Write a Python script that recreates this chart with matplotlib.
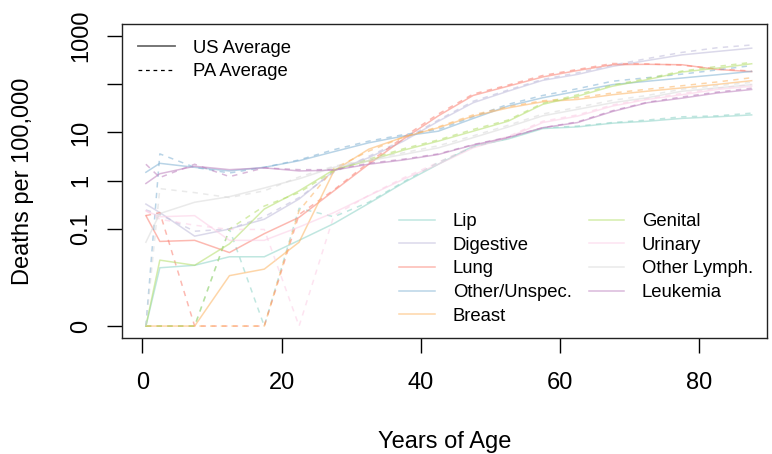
"""Cancer death rates by age, US vs PA averages, on a log(y + 0.001) scale."""

import numpy as np
import matplotlib
matplotlib.use('Agg')
import matplotlib.pyplot as plt
from matplotlib.lines import Line2D

AGES = [0.5, 2.5, 7.5, 12.5, 17.5, 22.5, 27.5, 32.5, 37.5, 42.5,
        47.5, 52.5, 57.5, 62.5, 67.5, 72.5, 77.5, 82.5, 87.5]

CAUSES = ['Lip', 'Digestive', 'Lung', 'Other/Unspec.', 'Breast',
          'Genital', 'Urinary', 'Other Lymph.', 'Leukemia']
COLORS = ['#8DD3C7', '#BEBADA', '#FB8072', '#80B1D3', '#FDB462',
          '#B3DE69', '#FCCDE5', '#D9D9D9', '#BC80BD']

# deaths per 100,000, US average
lip_us = [0, 0.015, 0.017, 0.026, 0.026, 0.058, 0.13, 0.34, 0.91, 2.2,
          5.2, 7.3, 12, 13, 15.5, 17, 19.5, 21, 23]
dig_us = [0.33, 0.22, 0.071, 0.10, 0.16, 0.42, 1.6, 3.0, 6.6, 17,
          41, 71, 119, 158, 231, 306, 400, 470, 550]
lung_us = [0.19, 0.055, 0.058, 0.032, 0.080, 0.175, 0.62, 2.2, 7.3, 22,
           58, 90, 140, 190, 250, 255, 250, 200, 180]
oth_us = [1.5, 2.3, 1.9, 1.6, 1.9, 2.6, 4.0, 6.1, 8.4, 10.6,
          19.4, 35, 52, 71, 97, 114, 133, 155, 182]
breast_us = [0, 0, 0, 0.010, 0.014, 0.053, 1.6, 4.5, 8.0, 12.5,
             21.7, 32, 43, 48, 60, 71, 83, 98, 117]
gen_us = [0, 0.022, 0.017, 0.049, 0.26, 0.62, 1.7, 2.6, 4.3, 6.6,
          10.6, 17, 38, 56, 90, 123, 177, 212, 262]
uri_us = [0.24, 0.18, 0.19, 0.058, 0.058, 0.11, 0.22, 0.49, 1.08, 2.2,
          4.8, 7.8, 16, 21.7, 35, 48, 60, 77, 90]
lym_us = [0.053, 0.21, 0.36, 0.47, 0.71, 1.1, 1.9, 2.6, 3.5, 4.8,
          7.8, 12.9, 22, 30, 41, 52, 71, 83, 97]
leu_us = [0.88, 1.4, 2.0, 1.7, 1.85, 1.6, 1.66, 2.2, 2.7, 3.5,
          5.5, 7.8, 12.5, 16, 27, 41, 51, 65, 77]

# deaths per 100,000, PA average
lip_pa = [0, 0, 0, 0.10, 0, 0.27, 0.18, 0.36, 0.95, 2.4,
          5.0, 7.6, 12.5, 13.5, 16, 18, 21, 22, 25]
dig_pa = [0.25, 0.20, 0.09, 0.10, 0.18, 0.45, 1.5, 3.2, 7.0, 18,
          44, 75, 125, 170, 245, 335, 450, 560, 640]
lung_pa = [0.19, 0.22, 0, 0, 0, 0.2, 0.65, 2.4, 8.0, 24,
           62, 95, 150, 200, 265, 260, 245, 205, 185]
oth_pa = [0, 3.6, 1.9, 1.45, 1.9, 2.7, 4.4, 6.6, 9.0, 11.5,
          21, 38, 58, 80, 114, 135, 160, 195, 240]
breast_pa = [0, 0, 0, 0, 0, 0.24, 1.8, 4.1, 8.0, 13,
             23, 34, 45, 52, 65, 78, 92, 110, 135]
gen_pa = [0, 0, 0, 0.10, 0.30, 0.57, 1.6, 2.8, 4.6, 7.0,
          11.5, 18, 40, 60, 95, 130, 185, 230, 280]
uri_pa = [0.24, 0.16, 0.12, 0.098, 0.098, 0, 0.19, 0.50, 1.15, 2.4,
          5.2, 8.2, 17, 23, 37, 50, 64, 82, 98]
lym_pa = [0, 0.69, 0.57, 0.45, 0.62, 1.2, 2.0, 2.8, 3.8, 5.3,
          8.5, 14, 24, 33, 46, 58, 78, 92, 108]
leu_pa = [2.2, 1.17, 2.2, 1.22, 1.85, 1.7, 1.7, 2.3, 2.8, 3.6,
          5.6, 8.0, 12.5, 16.5, 28, 42, 54, 68, 82]

US = [lip_us, dig_us, lung_us, oth_us, breast_us, gen_us, uri_us, lym_us, leu_us]
PA = [lip_pa, dig_pa, lung_pa, oth_pa, breast_pa, gen_pa, uri_pa, lym_pa, leu_pa]

Y_TICKS = [0, 0.1, 1, 10, 100, 1000]
Y_LABELS = ['0', '0.1', '1', '10', '', '1000']
X_TICKS = [0, 20, 40, 60, 80]

OFFSET = 0.001


def fwd(v):
    return np.log10(np.asarray(v, dtype=float) + OFFSET)


def inv(t):
    return 10 ** np.asarray(t, dtype=float) - OFFSET


def main():
    plt.rcParams['font.family'] = ['Liberation Sans', 'DejaVu Sans']

    fig = plt.figure(figsize=(7.72, 4.54), dpi=100)
    ax = fig.add_axes([0.1576, 0.2562, 0.8359, 0.6910])
    ax.set_yscale('function', functions=(fwd, inv))

    alpha = 0.55
    lw = 1.1
    for us, pa, col in zip(US, PA, COLORS):
        ax.plot(AGES, us, color=col, lw=lw, alpha=alpha)
        ax.plot(AGES, pa, color=col, lw=lw, alpha=alpha, dashes=(3.5, 3.5))

    ax.set_xlim(-2.98, 89.7)
    ax.set_ylim(inv(-3.24), inv(3.24))

    ax.set_xticks(X_TICKS)
    ax.set_xticklabels([str(x) for x in X_TICKS])
    ax.set_yticks(Y_TICKS)
    ax.set_yticklabels(Y_LABELS, rotation=90, va='center')
    ax.minorticks_off()
    ax.tick_params(axis='both', labelsize=17, length=10.5, width=1,
                   direction='out')
    ax.tick_params(axis='x', pad=14.5)
    ax.tick_params(axis='y', pad=10.5)
    for spine in ax.spines.values():
        spine.set_linewidth(1)
        spine.set_color('#222222')

    ax.text(0.5, -0.353, 'Years of Age', transform=ax.transAxes,
            ha='center', va='baseline', fontsize=17)
    ax.text(-0.153, 0.5, 'Deaths per 100,000', transform=ax.transAxes,
            ha='center', va='center', rotation=90, fontsize=17)

    # line type legend
    type_handles = [
        Line2D([], [], color='#6b6b6b', lw=1.3),
        Line2D([], [], color='black', lw=0.9, dashes=(3, 3)),
    ]
    leg1 = ax.legend(type_handles, ['US Average', 'PA Average'],
                     loc='upper left', bbox_to_anchor=(0.0253, 0.950),
                     frameon=False, fontsize=13.3, handlelength=2.0,
                     handletextpad=0.96, borderpad=0, borderaxespad=0,
                     labelspacing=0.36)
    ax.add_artist(leg1)

    # cause legend
    cause_handles = [Line2D([], [], color=c, lw=lw, alpha=alpha) for c in COLORS]
    ax.legend(cause_handles, CAUSES, ncol=2,
              loc='upper left', bbox_to_anchor=(0.4302, 0.397),
              frameon=False, fontsize=13.3, handlelength=1.93,
              handletextpad=0.96, borderpad=0, borderaxespad=0,
              labelspacing=0.36, columnspacing=0.92)

    fig.savefig('out.png', dpi=100)
    plt.close(fig)


if __name__ == '__main__':
    main()
